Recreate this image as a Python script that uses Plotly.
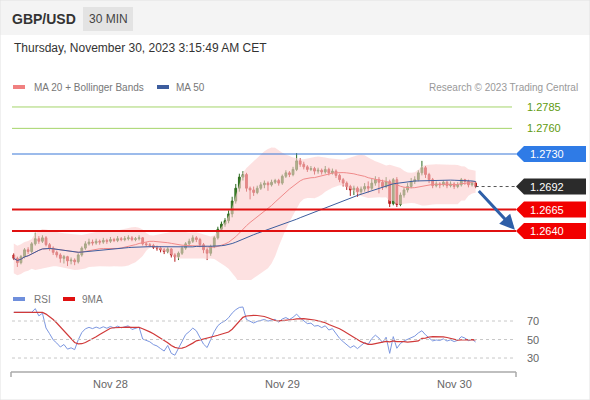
import numpy as np
import pandas as pd
import plotly.graph_objects as go

# 30 min candles, Nov 27 10:30 -> Nov 30 03:00 CET
first_open = 1.2612
closes = [1.2608, 1.2603, 1.2610, 1.2618, 1.2616, 1.2625, 1.2631, 1.2628,
          1.2632, 1.2624, 1.2620, 1.2615, 1.2612, 1.2608, 1.2610, 1.2605,
          1.2606, 1.2604, 1.2612, 1.2620,
          1.2625, 1.2627, 1.2626, 1.2628, 1.2627, 1.2629, 1.2628, 1.2630,
          1.2629, 1.2631, 1.2630, 1.2631, 1.2632, 1.2630, 1.2631, 1.2632,
          1.2625, 1.2624, 1.2623, 1.2621, 1.2620, 1.2618, 1.2616, 1.2619,
          1.2612, 1.2610, 1.2614,
          1.2620, 1.2625, 1.2628, 1.2632, 1.2630, 1.2624,
          1.2618, 1.2614, 1.2622,
          1.2632, 1.2642, 1.2648, 1.2652, 1.2660,
          1.2675, 1.2690, 1.2703, 1.2706,
          1.2690, 1.2688,
          1.2685, 1.2690, 1.2694, 1.2696, 1.2694, 1.2697, 1.2699, 1.2696,
          1.2704, 1.2708, 1.2706, 1.2712, 1.2722, 1.2718,
          1.2715, 1.2712, 1.2713, 1.2710, 1.2711, 1.2709, 1.2712, 1.2708,
          1.2710, 1.2705, 1.2700,
          1.2696, 1.2692, 1.2688, 1.2690, 1.2686,
          1.2689, 1.2692, 1.2690, 1.2696, 1.2700,
          1.2697, 1.2692, 1.2698, 1.2672, 1.2700,
          1.2671, 1.2682, 1.2688, 1.2692,
          1.2698, 1.2700, 1.2708, 1.2714, 1.2706,
          1.2700, 1.2693, 1.2695, 1.2694, 1.2697,
          1.2693, 1.2695, 1.2692, 1.2694, 1.2700, 1.2698, 1.2694, 1.2696, 1.2692]
highs = [1.2614, 1.2610, 1.2612, 1.2620, 1.2621, 1.2627, 1.2638, 1.2634,
         1.2635, 1.2634, 1.2626, 1.2622, 1.2617, 1.2614, 1.2612, 1.2611,
         1.2609, 1.2608, 1.2614, 1.2622,
         1.2628, 1.2631, 1.2630, 1.2631, 1.2630, 1.2632, 1.2631, 1.2633,
         1.2632, 1.2634, 1.2633, 1.2634, 1.2635, 1.2634, 1.2633, 1.2635,
         1.2633, 1.2627, 1.2626, 1.2625, 1.2623, 1.2622, 1.2620, 1.2621,
         1.2620, 1.2614, 1.2616,
         1.2622, 1.2627, 1.2631, 1.2635, 1.2634, 1.2632,
         1.2626, 1.2620, 1.2624,
         1.2634, 1.2645, 1.2651, 1.2655, 1.2664,
         1.2680, 1.2695, 1.2707, 1.2710,
         1.2708, 1.2692,
         1.2692, 1.2693, 1.2697, 1.2699, 1.2698, 1.2700, 1.2701, 1.2701,
         1.2706, 1.2711, 1.2710, 1.2715, 1.2731, 1.2725,
         1.2721, 1.2717, 1.2716, 1.2715, 1.2714, 1.2713, 1.2716, 1.2714,
         1.2713, 1.2712, 1.2707,
         1.2702, 1.2698, 1.2694, 1.2693, 1.2692,
         1.2692, 1.2696, 1.2698, 1.2701, 1.2704,
         1.2703, 1.2700, 1.2703, 1.2700, 1.2702,
         1.2703, 1.2685, 1.2691, 1.2696,
         1.2702, 1.2704, 1.2711, 1.2722, 1.2716,
         1.2708, 1.2702, 1.2698, 1.2697, 1.2699,
         1.2699, 1.2698, 1.2697, 1.2697, 1.2702, 1.2701, 1.2700, 1.2698, 1.2698]
lows = [1.2606, 1.2598, 1.2601, 1.2608, 1.2613, 1.2614, 1.2623, 1.2625,
        1.2626, 1.2622, 1.2617, 1.2612, 1.2609, 1.2603, 1.2602, 1.2599,
        1.2601, 1.2600, 1.2602, 1.2610,
        1.2618, 1.2623, 1.2623, 1.2624, 1.2624, 1.2625, 1.2625, 1.2626,
        1.2627, 1.2627, 1.2628, 1.2628, 1.2629, 1.2628, 1.2628, 1.2629,
        1.2623, 1.2622, 1.2621, 1.2619, 1.2617, 1.2615, 1.2613, 1.2614,
        1.2609, 1.2604, 1.2606,
        1.2612, 1.2618, 1.2623, 1.2626, 1.2627, 1.2621,
        1.2614, 1.2606, 1.2611,
        1.2620, 1.2630, 1.2640, 1.2645, 1.2649,
        1.2656, 1.2672, 1.2686, 1.2699,
        1.2686, 1.2677,
        1.2681, 1.2683, 1.2688, 1.2690, 1.2687, 1.2692, 1.2695, 1.2693,
        1.2694, 1.2702, 1.2703, 1.2704, 1.2710, 1.2715,
        1.2712, 1.2709, 1.2710, 1.2706, 1.2707, 1.2706, 1.2707, 1.2705,
        1.2706, 1.2702, 1.2697,
        1.2692, 1.2688, 1.2681, 1.2682, 1.2680,
        1.2683, 1.2686, 1.2685, 1.2688, 1.2693,
        1.2684, 1.2688, 1.2690, 1.2668, 1.2670,
        1.2668, 1.2669, 1.2679, 1.2685,
        1.2690, 1.2695, 1.2698, 1.2705, 1.2702,
        1.2696, 1.2690, 1.2691, 1.2690, 1.2692,
        1.2690, 1.2691, 1.2689, 1.2690, 1.2692, 1.2694, 1.2691, 1.2692, 1.2690]
opens = [first_open] + closes[:-1]

levels_green = [1.2785, 1.2760]
level_blue = 1.2730
last_price = 1.2692
levels_red = [1.2665, 1.2640]
day_labels = ["Nov 28", "Nov 29", "Nov 30"]
day_index = [27, 75, 123]

n = len(closes)
x = list(range(n))
c = pd.Series(closes)
ma20 = c.rolling(20, min_periods=1).mean()
sd20 = c.rolling(20, min_periods=6).std().bfill()
upper = ma20 + 2.2 * sd20
lower = ma20 - 2.2 * sd20
ma50 = c.rolling(50, min_periods=1).mean()

d = c.diff().fillna(0)
gain = d.clip(lower=0).ewm(alpha=1 / 14, min_periods=6).mean()
loss = (-d.clip(upper=0)).ewm(alpha=1 / 14, min_periods=6).mean()
rsi = (100 - 100 / (1 + gain / loss))
rsi = rsi.bfill()
rsi_ma = rsi.rolling(9, min_periods=1).mean()

W, H = 590, 400
def px(v): return v / W
def py(v): return 1 - v / H

fig = go.Figure()
fig.add_trace(go.Scatter(x=x, y=upper, mode="lines", line=dict(width=0), hoverinfo="skip"))
fig.add_trace(go.Scatter(x=x, y=lower, mode="lines", line=dict(width=0), fill="tonexty",
                         fillcolor="rgba(252,205,205,0.6)", hoverinfo="skip"))
fig.add_trace(go.Scatter(x=x, y=ma20, mode="lines", line=dict(color="#f08a8a", width=1)))
fig.add_trace(go.Scatter(x=x, y=ma50, mode="lines", line=dict(color="#3d5d9e", width=1)))
fig.add_trace(go.Candlestick(x=x, open=opens, high=highs, low=lows, close=closes,
                             increasing=dict(line=dict(color="#2e6b1f", width=1), fillcolor="#3f8a2a"),
                             decreasing=dict(line=dict(color="#b51c1c", width=1), fillcolor="#d42020"),
                             whiskerwidth=0))
fig.add_trace(go.Scatter(x=x, y=rsi, mode="lines", line=dict(color="#7b96e0", width=1),
                         xaxis="x2", yaxis="y2"))
fig.add_trace(go.Scatter(x=x, y=rsi_ma, mode="lines", line=dict(color="#d03a3a", width=1.2),
                         xaxis="x2", yaxis="y2"))

xr = [-0.5, (516 - 12) / 3.58 - 0.5]
shapes, ann = [], []
# header band
shapes.append(dict(type="rect", xref="paper", yref="paper", x0=0, x1=1, y0=py(35), y1=1,
                   fillcolor="#f4f4f4", line=dict(width=0), layer="below"))
shapes.append(dict(type="rect", xref="paper", yref="paper", x0=px(83), x1=px(133), y0=py(31), y1=py(7),
                   fillcolor="#e3e3e3", line=dict(width=0), layer="below"))
shapes.append(dict(type="rect", xref="paper", yref="paper", x0=0, x1=1, y0=0, y1=1,
                   line=dict(color="#e2e2e2", width=1)))
ann += [dict(text="<b>GBP/USD</b>", x=px(10), y=py(19), font=dict(size=14, color="#333"), xanchor="left"),
        dict(text="30 MIN", x=px(108), y=py(19), font=dict(size=12, color="#444"), xanchor="center"),
        dict(text="Thursday, November 30, 2023 3:15:49 AM CET", x=px(12), y=py(48),
             font=dict(size=12, color="#333"), xanchor="left"),
        dict(text="MA 20 + Bollinger Bands", x=px(32), y=py(87), font=dict(size=10, color="#777"), xanchor="left"),
        dict(text="MA 50", x=px(174), y=py(87), font=dict(size=10, color="#777"), xanchor="left"),
        dict(text="Research © 2023 Trading Central", x=px(580), y=py(87),
             font=dict(size=10, color="#999"), xanchor="right"),
        dict(text="RSI", x=px(32), y=py(299), font=dict(size=10, color="#777"), xanchor="left"),
        dict(text="9MA", x=px(80), y=py(299), font=dict(size=10, color="#777"), xanchor="left")]
for x0, col, yy in [(13, "#f08080", 87), (157, "#3d5d9e", 87), (13, "#6f8fdc", 299), (63, "#e01010", 299)]:
    shapes.append(dict(type="rect", xref="paper", yref="paper", x0=px(x0), x1=px(x0 + 12),
                       y0=py(yy + 2), y1=py(yy - 2), fillcolor=col, line=dict(width=0)))

# horizontal levels and tags
hh = 8 / 8556
def tag(p, col, txtcol="white"):
    xa, xb, xe = px(516), px(524), px(586)
    shapes.append(dict(type="path", xref="paper", yref="y",
                       path=f"M {xa},{p} L {xb},{p + hh} L {xe},{p + hh} L {xe},{p - hh} L {xb},{p - hh} Z",
                       fillcolor=col, line=dict(width=0)))
    ann.append(dict(text=f"{p:.4f}", x=px(528), y=p, yref="y", xref="paper",
                    font=dict(size=11, color=txtcol), xanchor="left"))

for p in levels_green:
    shapes.append(dict(type="line", xref="paper", yref="y", x0=px(12), x1=px(512), y0=p, y1=p,
                       line=dict(color="#a5d46a", width=1)))
    ann.append(dict(text=f"{p:.4f}", x=px(525), y=p, yref="y", xref="paper",
                    font=dict(size=11, color="#5f9a10"), xanchor="left"))
shapes.append(dict(type="line", xref="paper", yref="y", x0=px(12), x1=px(516), y0=level_blue, y1=level_blue,
                   line=dict(color="#3a78d8", width=1.2)))
tag(level_blue, "#2f7be6")
for p in levels_red:
    shapes.append(dict(type="line", xref="paper", yref="y", x0=px(12), x1=px(516), y0=p, y1=p,
                       line=dict(color="#e01010", width=2)))
    tag(p, "#f20000")
shapes.append(dict(type="line", xref="x", yref="y", x0=n - 1, x1=xr[1], y0=last_price, y1=last_price,
                   line=dict(color="#555", width=1, dash="dot")))
tag(last_price, "#2b2b2b")
ann.append(dict(x=xr[1] - 0.3, y=1.26415, ax=n - 0.5, ay=1.26885, xref="x", yref="y", axref="x", ayref="y",
                showarrow=True, arrowhead=2, arrowsize=1, arrowwidth=3, arrowcolor="#2e5fa8", text=""))

# RSI grid
for v in [70, 50, 30]:
    shapes.append(dict(type="line", xref="paper", yref="y2", x0=px(12), x1=px(516), y0=v, y1=v,
                       line=dict(color="#c8c8c8", width=1, dash="dot")))
    ann.append(dict(text=str(v), x=px(525), y=v, xref="paper", yref="y2",
                    font=dict(size=11, color="#666"), xanchor="left"))
shapes.append(dict(type="line", xref="paper", yref="paper", x0=px(11), x1=px(516), y0=py(372), y1=py(372),
                   line=dict(color="#aaa", width=1.5)))
for xx in [11, 516]:
    shapes.append(dict(type="line", xref="paper", yref="paper", x0=px(xx), x1=px(xx), y0=py(372), y1=py(377),
                       line=dict(color="#aaa", width=1.5)))
for lab, i in zip(day_labels, day_index):
    ann.append(dict(text=lab, x=i, y=py(384), xref="x2", yref="paper", font=dict(size=11, color="#666")))

for a in ann:
    a.setdefault("xref", "paper")
    a.setdefault("yref", "paper")
    a.setdefault("showarrow", False)
    if not a["showarrow"]:
        a["yanchor"] = "middle"

ax = dict(range=xr, domain=[px(12), px(516)], visible=False, fixedrange=True)
fig.update_layout(
    width=W, height=H, margin=dict(l=0, r=0, t=0, b=0), showlegend=False,
    paper_bgcolor="white", plot_bgcolor="rgba(0,0,0,0)",
    font=dict(family="Liberation Sans, Arial, sans-serif"),
    xaxis=dict(ax, rangeslider=dict(visible=False)),
    yaxis=dict(range=[1.25827, 1.2799], domain=[py(280), py(95)], visible=False),
    xaxis2=dict(ax, anchor="y2"),
    yaxis2=dict(range=[14.9, 92.7], domain=[py(372), py(300)], visible=False),
    shapes=shapes, annotations=ann,
)
fig.write_html("out.html", config={"displayModeBar": False},
               post_script="document.body.style.margin='0';")
